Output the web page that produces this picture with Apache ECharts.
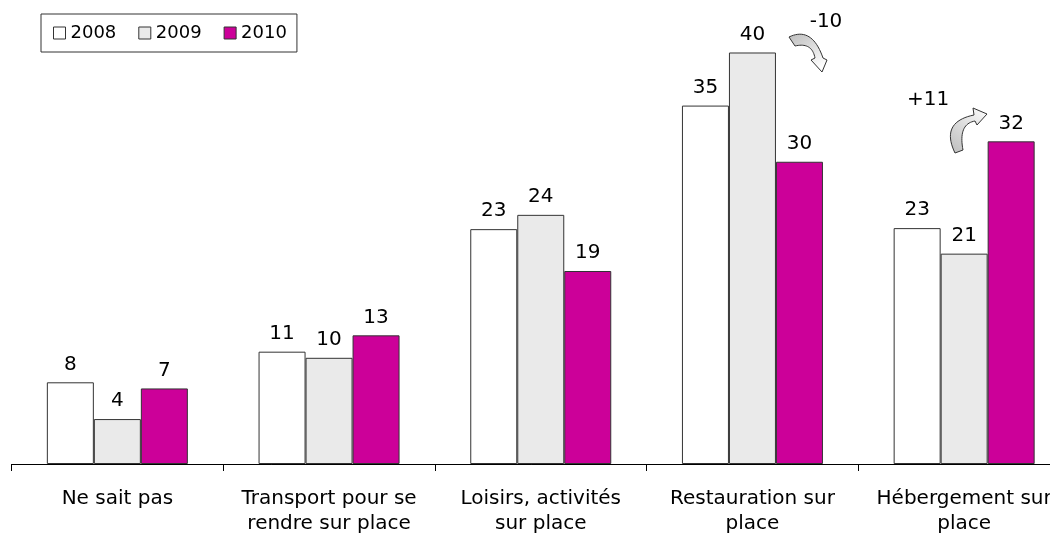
<!DOCTYPE html>
<html>
<head>
<meta charset="utf-8">
<script src="https://cdn.jsdelivr.net/npm/echarts@6/dist/echarts.min.js"></script>
<style>html,body{margin:0;padding:0;background:#fff}#c{width:1050px;height:533px}</style>
</head>
<body>
<div id="c"></div>
<script>
var categories = ['Ne sait pas', 'Transport pour se\nrendre sur place', 'Loisirs, activités\nsur place', 'Restauration sur\nplace', 'Hébergement sur\nplace'];
var seriesNames = ['2008', '2009', '2010'];
var values2008 = [8.0, 11.0, 23.0, 35.1, 23.1];
var values2009 = [4.4, 10.4, 24.4, 40.3, 20.6];
var values2010 = [7.4, 12.6, 18.9, 29.6, 31.6];
var annotations = ['-10', '+11'];

var FONT = 'DejaVu Sans';
var colors = ['#FFFFFF', '#EAEAEA', '#CC0099'];
var allValues = [values2008, values2009, values2010];

var chart = echarts.init(document.getElementById('c'), null, {renderer: 'canvas'});

var series = seriesNames.map(function (name, i) {
  return {
    name: name,
    type: 'bar',
    data: allValues[i],
    barWidth: 47,
    barGap: '0%',
    itemStyle: {color: colors[i], borderColor: '#333', borderWidth: 1},
    label: {
      show: true, position: 'top', distance: 8,
      fontFamily: FONT, fontSize: 20, color: '#000',
      formatter: function (p) { return Math.round(p.value); }
    },
    emphasis: {disabled: true}
  };
});

// quadratic curve sampler for decorative arrow outlines
function quad(p0, c, p1, n) {
  var pts = [];
  for (var k = 0; k <= n; k++) {
    var t = k / n, u = 1 - t;
    pts.push([u * u * p0[0] + 2 * u * t * c[0] + t * t * p1[0], u * u * p0[1] + 2 * u * t * c[1] + t * t * p1[1]]);
  }
  return pts;
}
var arrowA = [].concat(
  quad([789, 37], [812, 26], [823, 58], 20),
  [[827, 60], [822, 72], [811, 60]],
  quad([815, 58], [812, 42], [795, 46], 20)
);
var arrowB = [].concat(
  quad([955, 153], [940, 122], [974, 115], 20),
  [[973, 108], [987, 114], [977, 125]],
  quad([975, 121], [958, 124], [963, 150], 20)
);
function grad(x, y, x2, y2) {
  return {type: 'linear', x: x, y: y, x2: x2, y2: y2, colorStops: [
    {offset: 0, color: '#BDBDBD'}, {offset: 0.5, color: '#DCDCDC'}, {offset: 1, color: '#FFFFFF'}
  ]};
}

chart.setOption({
  animation: false,
  backgroundColor: '#fff',
  textStyle: {fontFamily: FONT},
  legend: {
    data: seriesNames,
    left: 41, top: 14,
    orient: 'horizontal',
    icon: 'rect',
    itemWidth: 12, itemHeight: 12,
    itemGap: 22, itemTextGap: 5,
    padding: [10, 10, 10, 12],
    borderColor: '#333', borderWidth: 1,
    backgroundColor: '#fff',
    textStyle: {fontFamily: FONT, fontSize: 18, color: '#000'},
    itemStyle: {borderColor: '#333', borderWidth: 1},
    selectedMode: false
  },
  grid: {left: 11.5, right: -20, top: 4.5, bottom: 69, outerBoundsMode: 'none', containLabel: false},
  xAxis: {
    type: 'category',
    data: categories,
    axisLine: {show: true, lineStyle: {color: '#000', width: 1}},
    axisTick: {show: true, length: 7, interval: 0, lineStyle: {color: '#000'}},
    axisLabel: {interval: 0, fontFamily: FONT, fontSize: 20, lineHeight: 25, color: '#000', margin: 22, hideOverlap: false}
  },
  yAxis: {
    type: 'value', min: 0, max: 45, show: false,
    splitLine: {show: false}
  },
  series: series,
  graphic: [
    {
      type: 'text', x: 826, y: 22,
      style: {text: annotations[0], fontFamily: FONT, fontSize: 20, fill: '#000', align: 'center', verticalAlign: 'middle'}
    },
    {
      type: 'text', x: 928, y: 100,
      style: {text: annotations[1], fontFamily: FONT, fontSize: 20, fill: '#000', align: 'center', verticalAlign: 'middle'}
    },
    {
      type: 'polygon',
      shape: {points: arrowA},
      style: {fill: grad(0, 0, 0.6, 1), stroke: '#333', lineWidth: 1}
    },
    {
      type: 'polygon',
      shape: {points: arrowB},
      style: {fill: grad(0, 1, 1, 0), stroke: '#333', lineWidth: 1}
    }
  ]
});
</script>
</body>
</html>
